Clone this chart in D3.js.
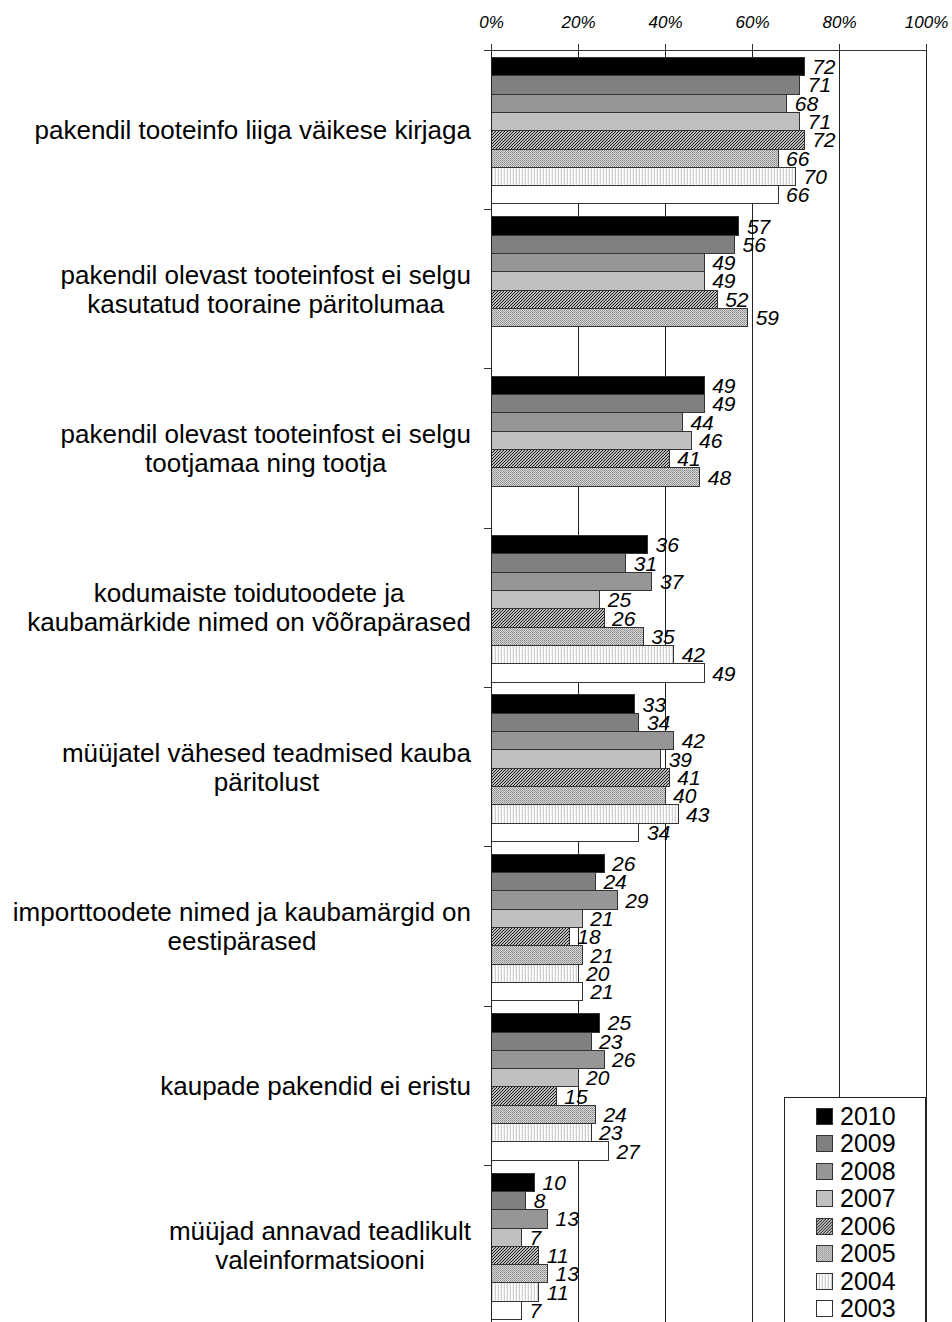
<!DOCTYPE html>
<html>
<head>
<meta charset="utf-8">
<script src="https://cdn.jsdelivr.net/npm/d3@7"></script>
<style>
	body { margin: 0; background: #fff; }
	svg { display: block; font-family: "Liberation Sans", Arial, sans-serif; }
</style>
</head>
<body>
<svg id="chart"></svg>
<script>
// category labels, already split into the lines they show as
let categories = [
	['pakendil tooteinfo liiga väikese kirjaga'],
	['pakendil olevast tooteinfost ei selgu', 'kasutatud tooraine päritolumaa'],
	['pakendil olevast tooteinfost ei selgu', 'tootjamaa ning tootja'],
	['kodumaiste toidutoodete ja', 'kaubamärkide nimed on võõrapärased'],
	['müüjatel vähesed teadmised kauba', 'päritolust'],
	['importtoodete nimed ja kaubamärgid on', 'eestipärased'],
	['kaupade pakendid ei eristu'],
	['müüjad annavad teadlikult', 'valeinformatsiooni']
];
let years = ['2010', '2009', '2008', '2007', '2006', '2005', '2004', '2003'];

// % per category, same order as categories. null = not asked that year
let v2010 = [72, 57, 49, 36, 33, 26, 25, 10];
let v2009 = [71, 56, 49, 31, 34, 24, 23, 8];
let v2008 = [68, 49, 44, 37, 42, 29, 26, 13];
let v2007 = [71, 49, 46, 25, 39, 21, 20, 7];
let v2006 = [72, 52, 41, 26, 41, 18, 15, 11];
let v2005 = [66, 59, 48, 35, 40, 21, 24, 13];
let v2004 = [70, null, null, 42, 43, 20, 23, 11];
let v2003 = [66, null, null, 49, 34, 21, 27, 7];

let xTicks = [0, 20, 40, 60, 80, 100];

let series = [v2010, v2009, v2008, v2007, v2006, v2005, v2004, v2003];

// flat list of bars, skip the missing ones
let bars = [];
categories.forEach((c, ci) => {
	years.forEach((y, yi) => {
		let v = series[yi][ci];
		if(v != null) bars.push({ cat: ci, year: y, val: v });
	});
});

let W = 952, H = 1322;
let marg = { top: 50, left: 491, right: 26, bottom: -3 };

const svg = d3.select('#chart')
	.attr('width', W)
	.attr('height', H);

// fills: solid greys + the three hatches excel used
let defs = svg.append('defs');

let p06 = defs.append('pattern').attr('id', 'p2006')
	.attr('patternUnits', 'userSpaceOnUse').attr('width', 3).attr('height', 3);
p06.append('rect').attr('width', 3).attr('height', 3).attr('fill', '#fff');
p06.append('path').attr('d', 'M-1,1 L1,-1 M0,3 L3,0 M2,4 L4,2')
	.attr('stroke', '#111').attr('stroke-width', 1.1);

let p05 = defs.append('pattern').attr('id', 'p2005')
	.attr('patternUnits', 'userSpaceOnUse').attr('width', 2).attr('height', 2);
p05.append('rect').attr('width', 2).attr('height', 2).attr('fill', '#d6d6d6');
p05.append('rect').attr('width', 1).attr('height', 1).attr('fill', '#8a8a8a');
p05.append('rect').attr('x', 1).attr('y', 1).attr('width', 1).attr('height', 1).attr('fill', '#a0a0a0');

let p04 = defs.append('pattern').attr('id', 'p2004')
	.attr('patternUnits', 'userSpaceOnUse').attr('width', 3).attr('height', 2);
p04.append('rect').attr('width', 3).attr('height', 2).attr('fill', '#fff');
p04.append('rect').attr('width', 1).attr('height', 2).attr('fill', '#cfcfcf');
p04.append('rect').attr('x', 2).attr('y', 1).attr('width', 1).attr('height', 1).attr('fill', '#e6e6e6');

let fills = {
	'2010': '#000',
	'2009': '#808080',
	'2008': '#969696',
	'2007': '#c0c0c0',
	'2006': 'url(#p2006)',
	'2005': 'url(#p2005)',
	'2004': 'url(#p2004)',
	'2003': '#fff'
};

const x = d3.scaleLinear()
	.domain([0, 100])
	.range([marg.left, W - marg.right]);

const y = d3.scaleBand()
	.domain(d3.range(categories.length))
	.range([marg.top, H - marg.bottom])
	.padding(0);

const yIn = d3.scaleBand()
	.domain(years)
	.range([0, y.bandwidth()])
	.paddingInner(0)
	.paddingOuter(0.35)
	.align(0.58);

let plotBot = H - marg.bottom;

// vertical grid lines (and the right border at 100)
svg.append('g')
	.attr('transform', 'translate(0,' + marg.top + ')')
	.call(d3.axisBottom(x).tickValues(xTicks.slice(1)).tickSize(plotBot - marg.top).tickFormat(''))
	.call(g => g.select('.domain').remove())
	.call(g => g.selectAll('line').attr('stroke', '#222').attr('shape-rendering', 'crispEdges'));

// bars
svg.append('g').selectAll('rect')
	.data(bars)
	.enter()
	.append('rect')
	.attr('x', x(0))
	.attr('y', d => y(d.cat) + yIn(d.year))
	.attr('width', d => x(d.val) - x(0))
	.attr('height', yIn.bandwidth())
	.attr('fill', d => fills[d.year])
	.attr('stroke', '#333')
	.attr('stroke-width', 1)
	.attr('shape-rendering', 'crispEdges');

// value labels, right after the bar end
svg.append('g').selectAll('text')
	.data(bars)
	.enter()
	.append('text')
	.attr('x', d => x(d.val) + 8)
	.attr('y', d => y(d.cat) + yIn(d.year) + yIn.bandwidth() / 2)
	.attr('dy', '0.36em')
	.attr('font-size', 21)
	.attr('font-style', 'italic')
	.attr('fill', '#000')
	.text(d => d.val);

// top axis with % labels
svg.append('g')
	.attr('transform', 'translate(0,' + marg.top + ')')
	.call(d3.axisTop(x).tickValues(xTicks).tickSize(6).tickSizeOuter(0).tickPadding(16).tickFormat(d => d + '%'))
	.call(g => g.select('.domain').attr('stroke', '#333').attr('shape-rendering', 'crispEdges'))
	.call(g => g.selectAll('line').attr('stroke', '#333').attr('shape-rendering', 'crispEdges'))
	.call(g => g.selectAll('text')
		.attr('font-family', '"Liberation Sans", Arial, sans-serif')
		.attr('font-size', 17)
		.attr('font-style', 'italic')
		.attr('fill', '#000'));

// left axis: line + ticks on the category boundaries (not centers)
let bounds = categories.map((c, i) => y(i)).concat([plotBot]);
let la = svg.append('g');
la.append('line')
	.attr('x1', x(0)).attr('x2', x(0))
	.attr('y1', marg.top).attr('y2', plotBot)
	.attr('stroke', '#222').attr('shape-rendering', 'crispEdges');
la.selectAll('.tk')
	.data(bounds)
	.enter()
	.append('line')
	.attr('class', 'tk')
	.attr('x1', x(0) - 7).attr('x2', x(0))
	.attr('y1', d => d).attr('y2', d => d)
	.attr('stroke', '#333').attr('shape-rendering', 'crispEdges');

// category labels: lines centered on each other, block right edge at 471
let labelRight = x(0) - 20;
let lineH = 29;
let cg = svg.append('g')
	.attr('font-size', 26)
	.attr('fill', '#000');
categories.forEach((lines, ci) => {
	let t = cg.append('text')
		.attr('text-anchor', 'middle');
	let mid = y(ci) + y.bandwidth() / 2;
	lines.forEach((ln, li) => {
		t.append('tspan')
			.attr('y', mid + (li - (lines.length - 1) / 2) * lineH)
			.attr('dy', '0.35em')
			.text(ln);
	});
	let maxW = d3.max(t.selectAll('tspan').nodes(), n => n.getComputedTextLength());
	t.selectAll('tspan').attr('x', labelRight - maxW / 2);
});

// legend box, runs off the bottom like the original
let lg = svg.append('g');
lg.append('rect')
	.attr('x', 784.5).attr('y', 1097.5)
	.attr('width', 141).attr('height', 260)
	.attr('fill', '#fff')
	.attr('stroke', '#222');
let li = lg.selectAll('g.item')
	.data(years)
	.enter()
	.append('g')
	.attr('class', 'item')
	.attr('transform', (d, i) => 'translate(816,' + (1116 + i * 27.45) + ')');
li.append('rect')
	.attr('x', 0.5).attr('y', -7.5)
	.attr('width', 16).attr('height', 16)
	.attr('fill', d => fills[d])
	.attr('stroke', '#333')
	.attr('shape-rendering', 'crispEdges');
li.append('text')
	.attr('x', 24)
	.attr('y', 0)
	.attr('dy', '0.36em')
	.attr('font-size', 25)
	.text(d => d);

console.log('bars drawn:', bars.length);
</script>
</body>
</html>
